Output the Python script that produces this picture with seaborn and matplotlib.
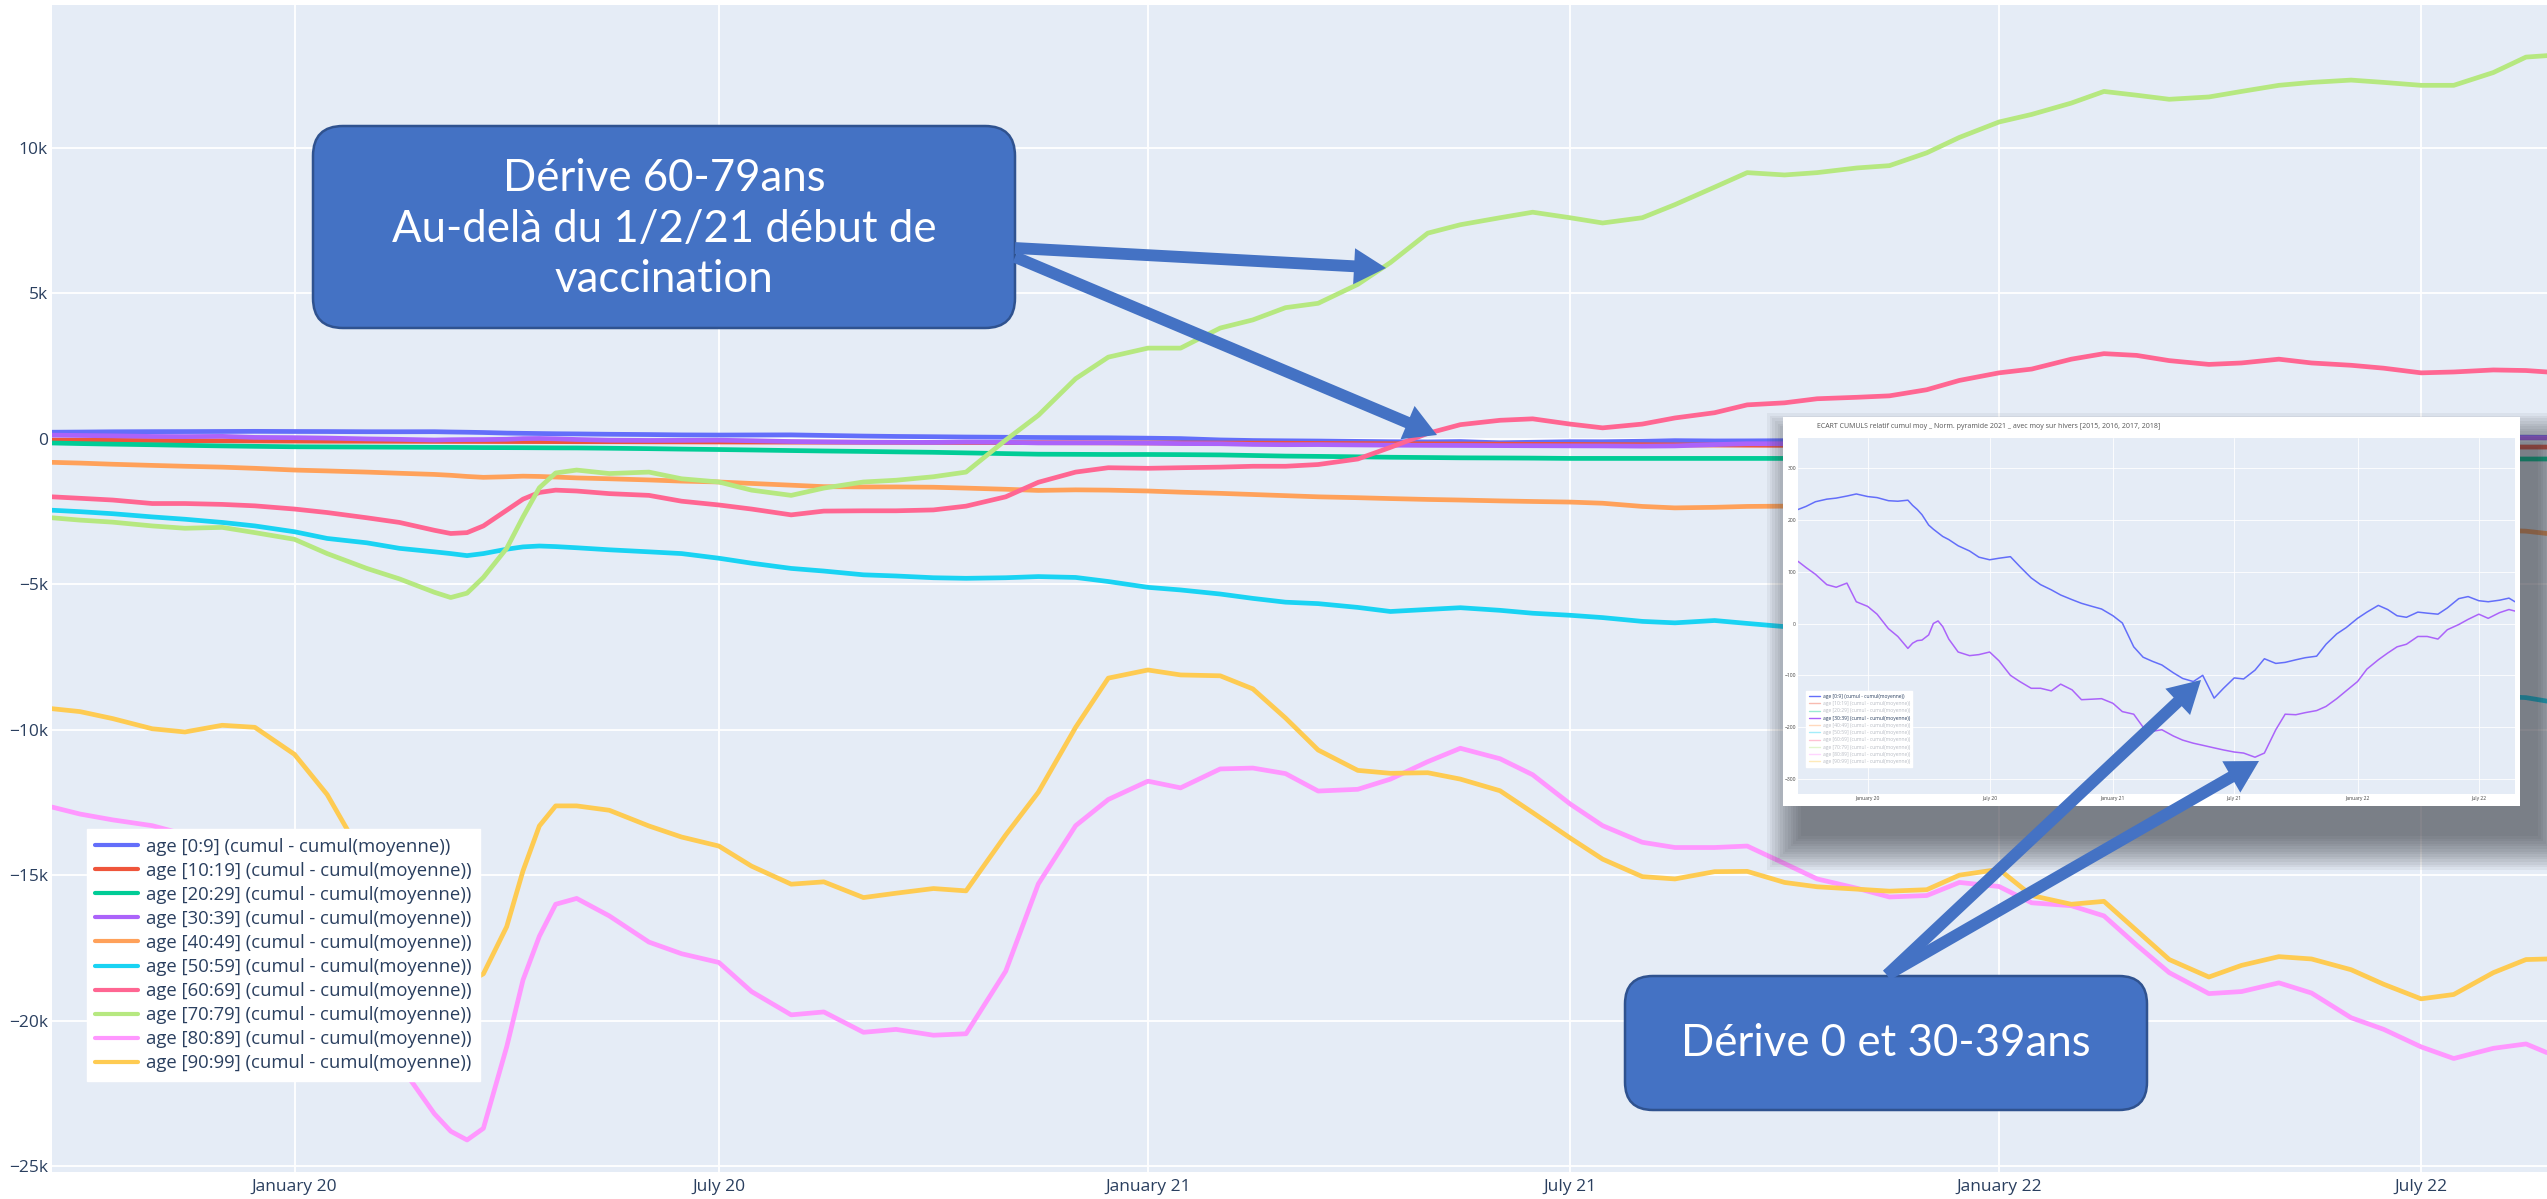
import matplotlib
matplotlib.use("Agg")
import matplotlib.pyplot as plt
import matplotlib.dates as mdates
from matplotlib.patches import FancyBboxPatch, Rectangle
from matplotlib.lines import Line2D
from matplotlib.ticker import FuncFormatter
import seaborn as sns
import pandas as pd

sns.set_theme(style="darkgrid")
plt.rcParams['font.family'] = ['Open Sans', 'DejaVu Sans']

W, H = 2547, 1199

dates = ["2019-09-19", "2019-10-01", "2019-10-15", "2019-11-01", "2019-11-15", "2019-12-01", "2019-12-15",
         "2020-01-01", "2020-01-15", "2020-02-01", "2020-02-15", "2020-03-01", "2020-03-08", "2020-03-15",
         "2020-03-22", "2020-04-01", "2020-04-08", "2020-04-15", "2020-04-22", "2020-05-01", "2020-05-15",
         "2020-06-01", "2020-06-15", "2020-07-01", "2020-07-15", "2020-08-01", "2020-08-15", "2020-09-01",
         "2020-09-15", "2020-10-01", "2020-10-15", "2020-11-01", "2020-11-15", "2020-12-01", "2020-12-15",
         "2021-01-01", "2021-01-15", "2021-02-01", "2021-02-15", "2021-03-01", "2021-03-15", "2021-04-01",
         "2021-04-15", "2021-05-01", "2021-05-15", "2021-06-01", "2021-06-15", "2021-07-01", "2021-07-15",
         "2021-08-01", "2021-08-15", "2021-09-01", "2021-09-15", "2021-10-01", "2021-10-15", "2021-11-01",
         "2021-11-15", "2021-12-01", "2021-12-15",
         "2022-01-01", "2022-01-15", "2022-02-01", "2022-02-15", "2022-03-01", "2022-03-15", "2022-04-01",
         "2022-04-15", "2022-05-01", "2022-05-15", "2022-06-01", "2022-06-15", "2022-07-01", "2022-07-15",
         "2022-08-01", "2022-08-15", "2022-08-24"]

age_0_9 = [220, 226, 235, 240, 242, 246, 250,
           245, 243, 237, 236, 238, 228, 220, 210, 190, 182, 175, 168, 162, 150, 140, 128, 123, 126, 129, 110,
           88, 75, 65, 55, 46, 39, 33, 28,
           15, 1, -45, -65, -73, -80, -95, -106, -112, -100, -144, -125, -105, -107, -90, -68, -77, -75, -70,
           -66, -63, -40, -20, -8,
           10, 22, 35, 27, 15, 12, 22, 20, 18, 30, 48, 52, 44, 42, 45, 49, 42]
age_10_19 = [-50, -55, -60, -65, -70, -75, -80,
             -85, -88, -90, -92, -95, -96, -97, -98, -100, -101, -102, -103, -105, -107, -110, -112, -115, -118,
             -120, -122, -125, -128, -130, -133, -136, -139, -142, -145,
             -148, -150, -153, -156, -160, -165, -170, -175, -180, -185, -190, -195, -200, -205, -210, -215,
             -220, -225, -230, -235, -240, -245, -250, -255,
             -258, -261, -264, -267, -270, -272, -274, -276, -278, -280, -282, -284, -286, -288, -289, -290, -290]
age_20_29 = [-150, -170, -190, -210, -230, -250, -265,
             -280, -285, -290, -295, -300, -302, -305, -308, -310, -312, -315, -318, -320, -330, -345, -360,
             -375, -390, -410, -425, -440, -455, -470, -490, -515, -535, -540, -545,
             -545, -550, -560, -580, -600, -610, -625, -640, -650, -660, -665, -670, -680, -680, -680, -680,
             -680, -680, -680, -685, -690, -690, -690, -695,
             -695, -695, -695, -695, -700, -700, -700, -700, -700, -700, -700, -700, -700, -700, -700, -700, -700]
age_30_39 = [120, 108, 95, 75, 70, 78, 42,
             33, 18, -10, -25, -48, -38, -33, -32, -22, 0, 5, -6, -30, -55, -62, -60, -55, -72, -100, -112,
             -125, -125, -130, -117, -128, -147, -146, -145,
             -154, -170, -175, -200, -208, -205, -217, -225, -231, -235, -240, -244, -248, -250, -258, -250,
             -205, -175, -176, -172, -168, -160, -145, -130,
             -112, -88, -70, -57, -45, -40, -25, -25, -30, -12, -2, 8, 18, 10, 21, 27, 24]
age_40_49 = [-815, -840, -880, -920, -950, -980, -1020,
             -1080, -1110, -1150, -1190, -1230, -1260, -1300, -1330, -1310, -1290, -1300, -1320, -1350, -1380,
             -1420, -1460, -1490, -1540, -1600, -1650, -1660, -1660, -1670, -1700, -1740, -1780, -1760, -1770,
             -1800, -1840, -1880, -1920, -1960, -2000, -2030, -2060, -2090, -2110, -2140, -2160, -2180, -2220,
             -2330, -2380, -2360, -2330, -2320, -2380, -2430, -2480, -2530, -2580,
             -2630, -2680, -2730, -2780, -2820, -2860, -2900, -2940, -2970, -3000, -3030, -3060, -3090, -3110,
             -3140, -3180, -3260]
age_50_59 = [-2460, -2510, -2580, -2690, -2770, -2880, -3000,
             -3200, -3430, -3580, -3770, -3890, -3950, -4020, -3950, -3800, -3720, -3690, -3710, -3750, -3820,
             -3890, -3950, -4110, -4280, -4460, -4550, -4680, -4720, -4780, -4800, -4780, -4740, -4770, -4910,
             -5110, -5200, -5340, -5490, -5620, -5670, -5800, -5940, -5870, -5810, -5900, -6000, -6070, -6150,
             -6280, -6330, -6250, -6350, -6460, -6550, -6650, -6750, -6850, -6950,
             -7100, -7250, -7400, -7550, -7700, -7850, -8000, -8150, -8300, -8450, -8550, -8650, -8750, -8800,
             -8850, -8900, -9020]
age_60_69 = [-2000, -2050, -2110, -2230, -2230, -2260, -2310,
             -2420, -2540, -2720, -2880, -3150, -3260, -3230, -3000, -2460, -2080, -1850, -1770, -1800, -1890,
             -1950, -2150, -2280, -2420, -2620, -2490, -2480, -2480, -2450, -2320, -2000, -1500, -1150, -1000,
             -1020, -1000, -980, -950, -950, -890, -700, -300, 180, 480, 630, 680, 500, 370, 500, 710, 890,
             1160, 1230, 1370, 1420, 1470, 1680, 2000,
             2260, 2390, 2730, 2920, 2860, 2680, 2550, 2600, 2730, 2600, 2520, 2420, 2260, 2290, 2360, 2340, 2290]
age_70_79 = [-2720, -2800, -2870, -3000, -3080, -3050, -3230,
             -3460, -3950, -4460, -4820, -5280, -5460, -5310, -4770, -3770, -2690, -1690, -1180, -1080, -1200,
             -1150, -1380, -1490, -1770, -1950, -1700, -1490, -1430, -1310, -1150, -50, 800, 2060, 2800,
             3110, 3110, 3800, 4080, 4500, 4650, 5300, 6050, 7060, 7350, 7590, 7780, 7590, 7410, 7590, 8040,
             8640, 9140, 9060, 9140, 9300, 9380, 9820, 10350,
             10880, 11140, 11530, 11930, 11800, 11660, 11740, 11930, 12140, 12240, 12320, 12240, 12140, 12140,
             12580, 13110, 13160]
age_80_89 = [-12660, -12900, -13100, -13300, -13600, -13700, -13900,
             -14500, -16000, -19000, -21500, -23200, -23800, -24100, -23700, -20900, -18600, -17100, -16000,
             -15800, -16400, -17300, -17700, -18000, -19000, -19800, -19700, -20400, -20300, -20500, -20450,
             -18300, -15300, -13300, -12400,
             -11770, -12000, -11350, -11320, -11510, -12110, -12050, -11700, -11100, -10640, -11000, -11550,
             -12550, -13300, -13870, -14050, -14050, -14000, -14600, -15130, -15450, -15750, -15700, -15250,
             -15390, -15950, -16050, -16400, -17400, -18350, -19070, -19000, -18700, -19050, -19900, -20300,
             -20900, -21300, -20950, -20800, -21100]
age_90_99 = [-9280, -9380, -9620, -9970, -10080, -9850, -9920,
             -10850, -12230, -14600, -16400, -18000, -18500, -18700, -18390, -16770, -14850, -13310, -12620,
             -12620, -12770, -13310, -13690, -14000, -14690, -15310, -15230, -15770, -15620, -15460, -15540,
             -13620, -12150, -9920, -8230,
             -7950, -8120, -8150, -8600, -9600, -10700, -11400, -11500, -11480, -11700, -12100, -12850, -13720,
             -14450, -15050, -15130, -14880, -14870, -15250, -15400, -15480, -15550, -15500, -15000,
             -14800, -15700, -16000, -15900, -16900, -17900, -18500, -18100, -17800, -17880, -18250, -18750,
             -19250, -19100, -18350, -17900, -17880]

ages = ["age [0:9] (cumul - cumul(moyenne))", "age [10:19] (cumul - cumul(moyenne))",
        "age [20:29] (cumul - cumul(moyenne))", "age [30:39] (cumul - cumul(moyenne))",
        "age [40:49] (cumul - cumul(moyenne))", "age [50:59] (cumul - cumul(moyenne))",
        "age [60:69] (cumul - cumul(moyenne))", "age [70:79] (cumul - cumul(moyenne))",
        "age [80:89] (cumul - cumul(moyenne))", "age [90:99] (cumul - cumul(moyenne))"]
colors = ["#636EFA", "#EF553B", "#00CC96", "#AB63FA", "#FFA15A",
          "#19D3F3", "#FF6692", "#B6E880", "#FF97FF", "#FECB52"]
series = [age_0_9, age_10_19, age_20_29, age_30_39, age_40_49,
          age_50_59, age_60_69, age_70_79, age_80_89, age_90_99]
inset_ages = [ages[0], ages[3]]

inset_title = "ECART CUMULS relatif cumul moy _ Norm. pyramide 2021 _ avec moy sur hivers [2015, 2016, 2017, 2018]"
note1 = "Dérive 60-79ans\nAu-delà du 1/2/21 début de\nvaccination"
note2 = "Dérive 0 et 30-39ans"

df = pd.concat([pd.DataFrame({'date': pd.to_datetime(dates), 'value': v, 'age': a})
                for a, v in zip(ages, series)], ignore_index=True)

xmin, xmax = pd.Timestamp("2019-09-19"), pd.Timestamp("2022-08-24")
bg = '#E5ECF6'
txt = '#2a3f5f'
box_blue = '#4472C4'


def month_fmt(x, pos=None):
    return mdates.num2date(x).strftime('%B %y')


def k_fmt(v, pos=None):
    if v == 0:
        return '0'
    return f"{int(round(v / 1000))}k".replace('-', '\u2212')


fig = plt.figure(figsize=(W / 100, H / 100), dpi=100)
fig.patch.set_facecolor('white')

# main chart
ax = fig.add_axes([52 / W, 1 - 1172 / H, (W - 52) / W, 1167 / H])
sns.lineplot(data=df, x='date', y='value', hue='age', hue_order=ages, palette=colors,
             linewidth=3.4, ax=ax, legend=False, estimator=None)
ax.set_facecolor(bg)
ax.grid(True, color='white', linewidth=1.3)
for s in ax.spines.values():
    s.set_visible(False)
ax.set_xlim(xmin, xmax)
ax.set_ylim(-25200, 14900)
ax.set_yticks([10000, 5000, 0, -5000, -10000, -15000, -20000, -25000])
ax.yaxis.set_major_formatter(FuncFormatter(k_fmt))
ax.xaxis.set_major_locator(mdates.MonthLocator(bymonth=[1, 7]))
ax.xaxis.set_major_formatter(FuncFormatter(month_fmt))
ax.tick_params(axis='both', length=0, labelsize=12.5, labelcolor=txt)
ax.tick_params(axis='y', pad=3)
ax.tick_params(axis='x', pad=5)
ax.set_xlabel('')
ax.set_ylabel('')

handles = [Line2D([], [], color=c, lw=3) for c in colors]
leg = ax.legend(handles, ages, loc='upper left', bbox_to_anchor=(0.0104, 0.3016),
                fontsize=13.3, frameon=True, facecolor='white', edgecolor='white', framealpha=1,
                handlelength=2.3, handletextpad=0.45, labelspacing=0.33, borderpad=0.45,
                fancybox=False)
for t in leg.get_texts():
    t.set_color(txt)

# shadow + white frame behind the pasted inset
sh = fig.add_axes([0, 0, 1, 1], zorder=5)
sh.set_xlim(0, W)
sh.set_ylim(H, 0)
sh.axis('off')
for i in range(14):
    g = i * 2.6
    sh.add_patch(Rectangle((1783 + 18 - g, 417 + 30 - g), 737 + 2 * g, 389 + 2 * g,
                           facecolor='#30343c', alpha=0.06, lw=0))
sh.add_patch(Rectangle((1783, 417), 737, 389, facecolor='white', lw=0))
sh.text(1817, 427, inset_title, fontsize=5, color='#555555', va='center', ha='left')

# inset chart
ins = fig.add_axes([1798 / W, 1 - 794 / H, 717 / W, 356 / H], zorder=6)
sns.lineplot(data=df[df['age'].isin(inset_ages)], x='date', y='value', hue='age',
             hue_order=inset_ages, palette=[colors[0], colors[3]], linewidth=1.1,
             ax=ins, legend=False, estimator=None)
ins.set_facecolor(bg)
ins.grid(True, color='white', linewidth=0.6)
for s in ins.spines.values():
    s.set_visible(False)
ins.set_xlim(xmin, xmax)
ins.set_ylim(-329, 358)
ins.set_yticks([300, 200, 100, 0, -100, -200, -300])
ins.yaxis.set_major_formatter(FuncFormatter(lambda v, p: f"{int(v)}".replace('-', '\u2212')))
ins.xaxis.set_major_locator(mdates.MonthLocator(bymonth=[1, 7]))
ins.xaxis.set_major_formatter(FuncFormatter(month_fmt))
ins.tick_params(axis='both', length=0, labelsize=3.6, labelcolor='#444444', pad=1.5)
ins.set_xlabel('')
ins.set_ylabel('')
ihandles = [Line2D([], [], color=c, lw=1.0, alpha=1 if a in inset_ages else 0.4)
            for a, c in zip(ages, colors)]
ileg = ins.legend(ihandles, ages, loc='upper left', bbox_to_anchor=(0.008, 0.295),
                  fontsize=3.6, frameon=True, facecolor='white', edgecolor='white', framealpha=1,
                  handlelength=2.2, handletextpad=0.6, labelspacing=0.45, borderpad=0.5, fancybox=False)
for a, t in zip(ages, ileg.get_texts()):
    t.set_color('#2a3f5f' if a in inset_ages else '#b8bcc4')

# callouts and arrows on top
ov = fig.add_axes([0, 0, 1, 1], zorder=7)
ov.set_xlim(0, W)
ov.set_ylim(H, 0)
ov.axis('off')
ov.patch.set_visible(False)
ov.add_patch(FancyBboxPatch((313, 126), 702, 202, boxstyle="round,pad=0,rounding_size=30",
                            facecolor=box_blue, edgecolor='#2F528F', lw=1.8))
ov.add_patch(FancyBboxPatch((1625, 976), 522, 134, boxstyle="round,pad=0,rounding_size=28",
                            facecolor=box_blue, edgecolor='#2F528F', lw=1.8))
ov.text(664, 229, note1, color='white', fontsize=31.5, ha='center', va='center',
        linespacing=1.28, family=['Lato', 'DejaVu Sans'])
ov.text(1886, 1043, note2, color='white', fontsize=31.5, ha='center', va='center',
        family=['Lato', 'DejaVu Sans'])

arrow_style = dict(arrowstyle='simple,head_length=2.3,head_width=2.6,tail_width=0.85',
                   mutation_scale=10, facecolor=box_blue, edgecolor=box_blue, lw=0,
                   shrinkA=0, shrinkB=0)
for start, tip in [((1015, 248), (1386, 268)), ((1015, 257), (1437, 435)),
                   ((1887, 975), (2201, 680)), ((1887, 975), (2259, 761))]:
    ov.annotate('', xy=tip, xytext=start, xycoords='data', textcoords='data', arrowprops=arrow_style)

fig.savefig('out.png', dpi=100, facecolor='white')
